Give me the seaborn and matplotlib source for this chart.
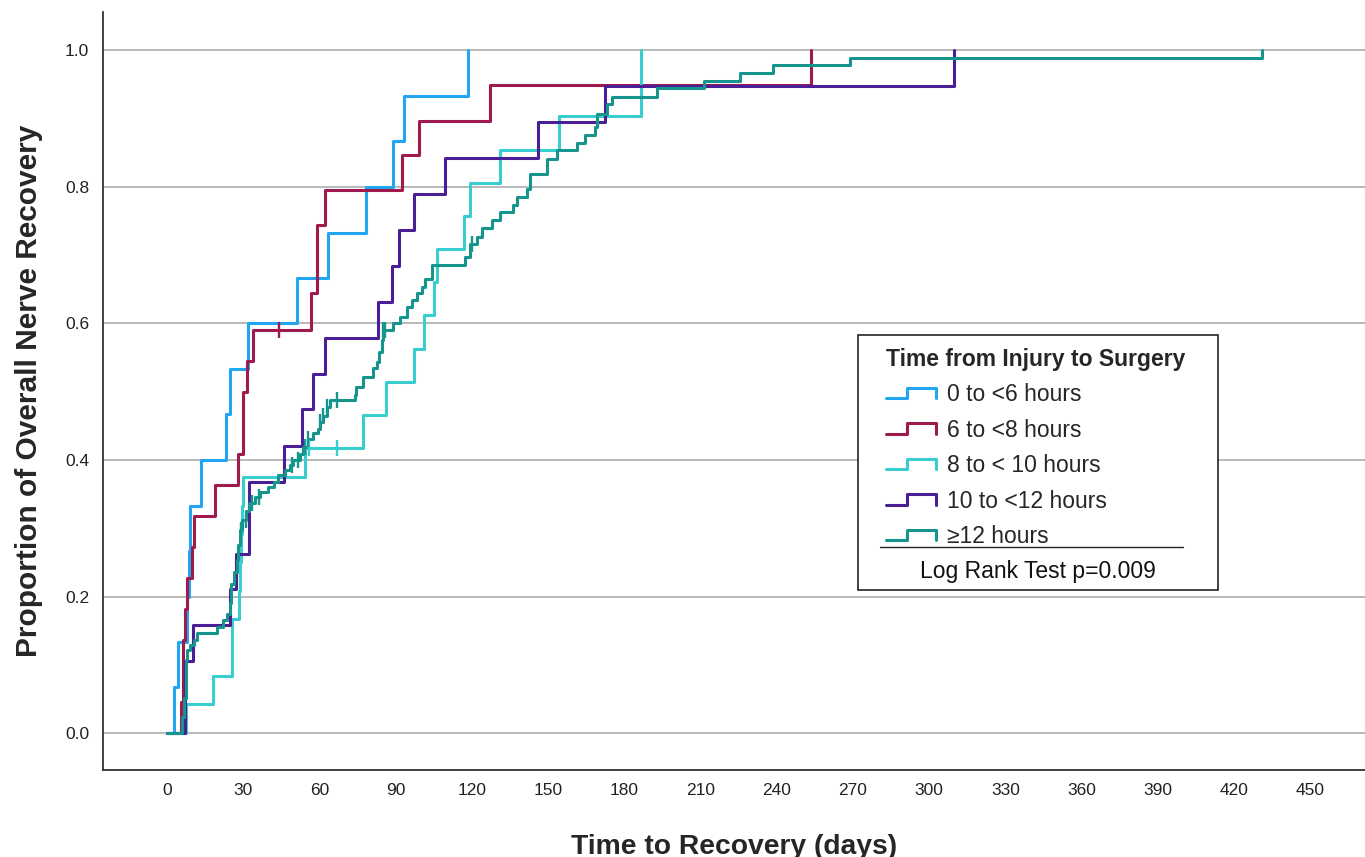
import numpy as np
import pandas as pd
import matplotlib
matplotlib.use('Agg')
import matplotlib.pyplot as plt
from matplotlib.lines import Line2D
from matplotlib.patches import Rectangle
from matplotlib.legend_handler import HandlerLine2D
import seaborn as sns

# groups and colours
groups = ['0 to <6 hours', '6 to <8 hours', '8 to < 10 hours', '10 to <12 hours', '≥12 hours']
colors = ['#22a6f2', '#9f1a4e', '#38cdce', '#4a1f96', '#16958e']

# step points: day of event and cumulative proportion recovered after it
days_0_6 = [0, 2.8, 4.5, 8.0, 8.5, 9.0, 13.3, 23.2, 24.8, 32.0, 51.0, 63.2, 78.2, 89.1, 93.3, 118.6]
prop_0_6 = [0, 0.067, 0.133, 0.2, 0.267, 0.333, 0.4, 0.467, 0.533, 0.6, 0.667, 0.733, 0.8, 0.867, 0.933, 1.0]

days_6_8 = [0, 5.4, 6.2, 7.1, 7.8, 9.7, 10.6, 18.9, 28.1, 30.0, 31.6, 34.0, 56.8, 59.2, 62.2, 92.4, 99.3, 127.0, 253.5]
prop_6_8 = [0, 0.045, 0.136, 0.182, 0.227, 0.273, 0.318, 0.364, 0.409, 0.5, 0.545, 0.591, 0.644, 0.744, 0.795,
            0.846, 0.897, 0.949, 1.0]

days_8_10 = [0, 7.3, 18.2, 25.5, 28.3, 28.6, 29.0, 29.5, 30.0, 54.3, 77.3, 86.2, 97.2, 101.0, 104.9, 106.2,
             116.7, 119.3, 131.1, 154.1, 186.5]
prop_8_10 = [0, 0.042, 0.083, 0.167, 0.208, 0.25, 0.292, 0.333, 0.375, 0.417, 0.466, 0.514, 0.563, 0.612,
             0.660, 0.709, 0.757, 0.806, 0.854, 0.903, 1.0]

days_10_12 = [0, 7.1, 10.1, 24.8, 27.3, 32.2, 46.0, 53.0, 57.6, 62.2, 83.2, 88.4, 91.3, 97.2, 109.4, 146.2,
              172.4, 309.8]
prop_10_12 = [0, 0.105, 0.158, 0.211, 0.263, 0.368, 0.421, 0.474, 0.526, 0.579, 0.632, 0.684, 0.737, 0.789,
              0.842, 0.895, 0.947, 1.0]

days_12 = [0, 5.8, 6.5, 7.5, 8.0, 9.0, 10.5, 11.7, 19.6, 22.2, 23.5, 24.8, 25.2, 26.5, 27.4, 28.0, 28.7, 29.4,
           31.1, 32.4, 34.6, 36.6, 39.9, 41.9, 43.8, 46.5, 48.4, 49.7, 52.4, 53.7, 55.6, 57.6, 59.6, 60.2, 61.5,
           62.9, 64.2, 74.0, 74.5, 77.3, 81.2, 82.6, 83.6, 84.5, 85.2, 89.1, 91.7, 94.4, 96.3, 98.3, 100.3,
           101.6, 104.2, 117.3, 119.3, 121.9, 123.9, 127.8, 131.1, 136.3, 137.6, 141.6, 142.9, 149.5, 153.4,
           161.3, 164.6, 168.5, 169.2, 173.1, 175.1, 192.8, 211.4, 225.6, 238.5, 268.9, 431.0]
prop_12 = [0, 0.024, 0.051, 0.107, 0.122, 0.129, 0.136, 0.146, 0.156, 0.165, 0.175, 0.19, 0.219, 0.236, 0.253,
           0.275, 0.297, 0.312, 0.326, 0.337, 0.346, 0.353, 0.361, 0.368, 0.378, 0.385, 0.392, 0.400, 0.409,
           0.419, 0.431, 0.439, 0.446, 0.456, 0.465, 0.477, 0.488, 0.495, 0.507, 0.522, 0.534, 0.544, 0.558,
           0.575, 0.590, 0.600, 0.610, 0.624, 0.634, 0.644, 0.653, 0.665, 0.685, 0.697, 0.717, 0.727, 0.739,
           0.751, 0.763, 0.773, 0.785, 0.797, 0.819, 0.841, 0.854, 0.864, 0.876, 0.888, 0.907, 0.922, 0.932,
           0.944, 0.955, 0.967, 0.978, 0.989, 1.0]

# censored cases (days)
censor_0_6 = []
censor_6_8 = [44.2]
censor_8_10 = [55.9, 67.0]
censor_10_12 = []
censor_12 = [29.3, 31.0, 33.3, 36.0, 49.0, 51.7, 54.3, 55.6, 60.2, 61.5, 62.9, 67.0, 85.2, 85.8, 119.9]

x_ticks = list(range(0, 451, 30))
y_ticks = [0.0, 0.2, 0.4, 0.6, 0.8, 1.0]

all_days = [days_0_6, days_6_8, days_8_10, days_10_12, days_12]
all_prop = [prop_0_6, prop_6_8, prop_8_10, prop_10_12, prop_12]
all_cens = [censor_0_6, censor_6_8, censor_8_10, censor_10_12, censor_12]

frames = []
for g, d, p in zip(groups, all_days, all_prop):
    frames.append(pd.DataFrame({'group': g, 'day': d, 'prop': p}))
df = pd.concat(frames, ignore_index=True)
palette = dict(zip(groups, colors))

sns.set_theme(style='white')
plt.rcParams['font.family'] = ['Liberation Sans', 'DejaVu Sans']

fig, ax = plt.subplots(figsize=(13.65, 8.57), dpi=100)
fig.subplots_adjust(left=0.0755, right=1.0, bottom=0.1015, top=0.986)

sns.lineplot(data=df, x='day', y='prop', hue='group', hue_order=groups, palette=palette,
             drawstyle='steps-post', estimator=None, lw=2.2, legend=False, ax=ax, zorder=3)

# censor ticks
for g, d, p, cens in zip(groups, all_days, all_prop, all_cens):
    if not cens:
        continue
    d_arr = np.array(d)
    p_arr = np.array(p)
    idx = np.searchsorted(d_arr, cens, side='right') - 1
    sns.scatterplot(x=cens, y=p_arr[idx], marker='|', color=palette[g], s=130, linewidth=1.7,
                    ax=ax, zorder=4, legend=False)

ax.set_xlim(-25.2, 471.6)
ax.set_ylim(-0.054, 1.056)
ax.set_xticks(x_ticks)
ax.set_yticks(y_ticks)
ax.set_yticklabels([f'{v:.1f}' for v in y_ticks])
ax.tick_params(axis='both', length=0, labelsize=12.5, colors='#222222')
ax.tick_params(axis='y', pad=10)
ax.tick_params(axis='x', pad=9)
ax.yaxis.grid(True, color='#b4b4b4', lw=1.3)
ax.xaxis.grid(False)
for s in ['top', 'right']:
    ax.spines[s].set_visible(False)
for s in ['left', 'bottom']:
    ax.spines[s].set_color('#333333')
    ax.spines[s].set_linewidth(1.3)

ax.set_xlabel('Time to Recovery (days)', fontsize=20.3, fontweight='bold', labelpad=26)
ax.set_ylabel('Proportion of Overall Nerve Recovery', fontsize=21.5, fontweight='bold', labelpad=16)


class StepHandler(HandlerLine2D):
    def create_artists(self, legend, orig_handle, xdescent, ydescent, width, height, fontsize, trans):
        xs = np.array([0, 0.42, 0.42, 1, 1]) * width - xdescent
        ys = np.array([0.1, 0.1, 0.9, 0.9, 0.1]) * height - ydescent
        ln = Line2D(xs, ys, color=orig_handle.get_color(), lw=orig_handle.get_linewidth())
        ln.set_transform(trans)
        return [ln]


handles = [Line2D([0], [0], color=c, lw=2.2) for c in colors]
leg = ax.legend(handles, groups, loc='upper left', bbox_to_anchor=(0.6204, 0.557), frameon=False,
                fontsize=16.5, title='Time from Injury to Surgery', alignment='left',
                title_fontproperties={'weight': 'bold', 'size': 16.5},
                handler_map={Line2D: StepHandler()}, handlelength=2.2, handleheight=0.5,
                handletextpad=0.45, labelspacing=0.545, borderpad=0, borderaxespad=0)
leg.set_zorder(6)

# legend frame, separator and test result
ax.add_patch(Rectangle((0.598, 0.2375), 0.2855, 0.3365, transform=ax.transAxes, facecolor='white',
                       edgecolor='#222222', lw=1.2, zorder=5))
ax.plot([0.6157, 0.8558], [0.2942, 0.2942], transform=ax.transAxes, color='#222222', lw=1.0, zorder=6)
ax.text(0.741, 0.2625, 'Log Rank Test p=0.009', transform=ax.transAxes, ha='center', va='center',
        fontsize=16.5, color='#111111', zorder=6)

plt.savefig('out.png', dpi=100)
